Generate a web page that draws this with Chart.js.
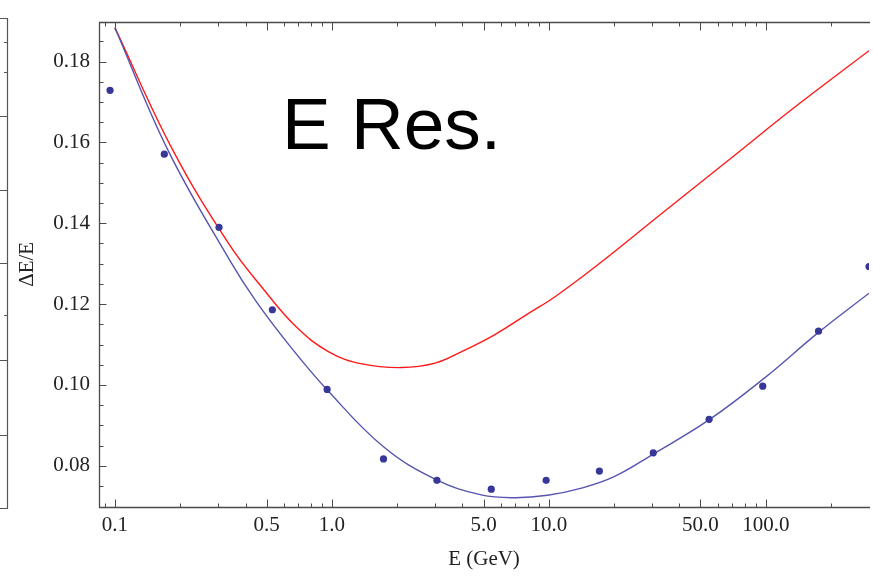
<!DOCTYPE html>
<html>
<head>
<meta charset="utf-8">
<script src="https://cdn.jsdelivr.net/npm/chart.js@4.4.1/dist/chart.umd.min.js"></script>
<style>
  html, body { margin: 0; padding: 0; background: #fff; }
  #wrap { width: 873px; height: 576px; }
</style>
</head>
<body>
<div id="wrap"><canvas id="canvas"></canvas></div>
<script>
// measured points: energy (GeV) and dE/E
var energies   = [0.095, 0.169, 0.302, 0.532, 0.951, 1.73, 3.05, 5.43, 9.72, 17.1, 30.3, 54.8, 96.8, 175, 299];
var resolution = [0.1729, 0.1571, 0.1390, 0.1186, 0.0989, 0.0817, 0.0764, 0.0742, 0.0764, 0.0787, 0.0832, 0.0915, 0.0997, 0.1133, 0.1293];

// blue fitted curve
var fitE   = [0.1, 0.1756, 0.337, 0.446, 0.648, 0.951, 1.73, 3.04, 4.88, 6.95, 9.87, 14.0, 20.0, 30.3, 54.9, 97.5, 175, 299];
var fitRes = [0.1884, 0.1581, 0.1310, 0.1208, 0.1093, 0.0988, 0.0847, 0.0765, 0.0728, 0.0721, 0.0727, 0.0744, 0.0773, 0.0829, 0.0914, 0.1015, 0.1130, 0.1227];

// red curve
var redE   = [0.1, 0.185, 0.337, 0.479, 0.681, 0.968, 1.376, 2.10, 2.99, 3.95, 5.62, 8.0, 10.6, 16.7, 33.8, 68.4, 138, 299];
var redRes = [0.1884, 0.1581, 0.1347, 0.1240, 0.1145, 0.1082, 0.1052, 0.1043, 0.1054, 0.1082, 0.1124, 0.1176, 0.1217, 0.1296, 0.1428, 0.1559, 0.1690, 0.1827];

// axes
var xMajorTicks = [0.1, 0.5, 1, 5, 10, 50, 100];
var xTickLabels = ["0.1", "0.5", "1.0", "5.0", "10.0", "50.0", "100.0"];
var xMinorTicks = [0.09, 0.2, 0.3, 0.4, 0.6, 0.7, 0.8, 0.9, 2, 3, 4, 6, 7, 8, 9, 20, 30, 40, 60, 70, 80, 90, 200];
var yMajorTicks = [0.08, 0.10, 0.12, 0.14, 0.16, 0.18];
var yTickLabels = ["0.08", "0.10", "0.12", "0.14", "0.16", "0.18"];
var yMinorTicks = [0.075, 0.085, 0.09, 0.095, 0.105, 0.11, 0.115, 0.125, 0.13, 0.135, 0.145, 0.15, 0.155, 0.165, 0.17, 0.175, 0.185];

function pairs(xs, ys) {
    var out = [];
    for (var i = 0; i < xs.length; i++) out.push({x: xs[i], y: ys[i]});
    return out;
}

var serif = "'Liberation Serif', 'Times New Roman', serif";
var tickFont = {family: serif, size: 21};
var frameColor = "#4a4a4a";

// frame with Mathematica-like inward ticks, plus the big label
var framePlugin = {
    id: 'frame',
    afterDatasetsDraw: function(chart) {
        var ctx = chart.ctx, a = chart.chartArea;
        var xs = chart.scales.x, ys = chart.scales.y;
        var L = Math.round(a.left) + 0.5, T = Math.round(a.top) + 0.5, B = Math.round(a.bottom) + 0.5;
        ctx.save();
        ctx.strokeStyle = frameColor;
        ctx.lineWidth = 1.3;
        ctx.beginPath();
        ctx.moveTo(a.right + 1, T); ctx.lineTo(L, T); ctx.lineTo(L, B); ctx.lineTo(a.right + 1, B);
        ctx.stroke();

        ctx.lineWidth = 1;
        ctx.beginPath();
        function xtick(v, len) {
            var px = Math.round(xs.getPixelForValue(v)) + 0.5;
            if (px < a.left || px > a.right) return;
            ctx.moveTo(px, B); ctx.lineTo(px, B - len);
            ctx.moveTo(px, T); ctx.lineTo(px, T + len);
        }
        function ytick(v, len) {
            var py = Math.round(ys.getPixelForValue(v)) + 0.5;
            ctx.moveTo(L, py); ctx.lineTo(L + len, py);
        }
        xMajorTicks.forEach(function(v) { xtick(v, 8); });
        xMinorTicks.forEach(function(v) { xtick(v, 4); });
        yMajorTicks.forEach(function(v) { ytick(v, 7); });
        yMinorTicks.forEach(function(v) { ytick(v, 4); });
        ctx.stroke();

        // big label inside the plot
        ctx.fillStyle = "#000";
        ctx.font = "73px 'Liberation Sans', Arial, sans-serif";
        ctx.textBaseline = "alphabetic";
        ctx.fillText("E Res.", a.left + 183, a.top + 127);

        // edge of the neighbouring panel on the left
        ctx.strokeStyle = "#555";
        ctx.lineWidth = 1.2;
        ctx.beginPath();
        ctx.moveTo(0, 18.5); ctx.lineTo(7.5, 18.5); ctx.lineTo(7.5, 508.5); ctx.lineTo(0, 508.5);
        [116.5, 190.5, 263.5, 360.5, 435.5].forEach(function(y) { ctx.moveTo(0, y); ctx.lineTo(7.5, y); });
        [42.5, 72.5, 315.5].forEach(function(y) { ctx.moveTo(4, y); ctx.lineTo(7.5, y); });
        ctx.stroke();
        ctx.restore();
    }
};

var ctx = document.getElementById("canvas");
var chart = new Chart(ctx, {
    type: 'scatter',
    data: {
        datasets: [{
            label: 'data',
            data: pairs(energies, resolution),
            backgroundColor: '#37379a',
            borderColor: '#37379a',
            pointRadius: 3.6,
            pointBorderWidth: 0,
            showLine: false
        }, {
            label: 'fit',
            data: pairs(fitE, fitRes),
            borderColor: '#5555b0',
            borderWidth: 1.4,
            pointRadius: 0,
            showLine: true,
            tension: 0.4
        }, {
            label: 'red',
            data: pairs(redE, redRes),
            borderColor: '#ff1a1a',
            borderWidth: 1.4,
            pointRadius: 0,
            showLine: true,
            tension: 0.4
        }]
    },
    options: {
        responsive: true,
        maintainAspectRatio: false,
        animation: false,
        layout: {padding: {top: 19, right: 0, left: 0, bottom: 0}},
        plugins: {legend: {display: false}, tooltip: {enabled: false}},
        scales: {
            x: {
                type: 'logarithmic',
                min: 0.0845,
                max: 299,
                grid: {display: false, drawTicks: false},
                border: {display: false},
                afterBuildTicks: function(scale) {
                    scale.ticks = xMajorTicks.map(function(v) { return {value: v}; });
                },
                afterFit: function(scale) { scale.height = 69; },
                ticks: {
                    autoSkip: false,
                    maxRotation: 0,
                    padding: 6,
                    color: '#222',
                    font: tickFont,
                    callback: function(value) {
                        var i = xMajorTicks.indexOf(value);
                        return i >= 0 ? xTickLabels[i] : '';
                    }
                },
                title: {
                    display: true,
                    text: 'E (GeV)',
                    color: '#222',
                    font: {family: serif, size: 21},
                    padding: {top: 0, bottom: 4}
                }
            },
            y: {
                min: 0.0698,
                max: 0.1899,
                grid: {display: false, drawTicks: false},
                border: {display: false},
                afterBuildTicks: function(scale) {
                    scale.ticks = yMajorTicks.map(function(v) { return {value: v}; });
                },
                afterFit: function(scale) { scale.width = 99; },
                ticks: {
                    autoSkip: false,
                    padding: 9,
                    color: '#222',
                    font: tickFont,
                    callback: function(value) {
                        for (var i = 0; i < yMajorTicks.length; i++) {
                            if (Math.abs(yMajorTicks[i] - value) < 1e-9) return yTickLabels[i];
                        }
                        return '';
                    }
                },
                title: {
                    display: true,
                    text: 'ΔE/E',
                    color: '#222',
                    font: {family: serif, size: 21},
                    padding: {top: 15, bottom: 0}
                }
            }
        }
    },
    plugins: [framePlugin]
});
</script>
</body>
</html>
